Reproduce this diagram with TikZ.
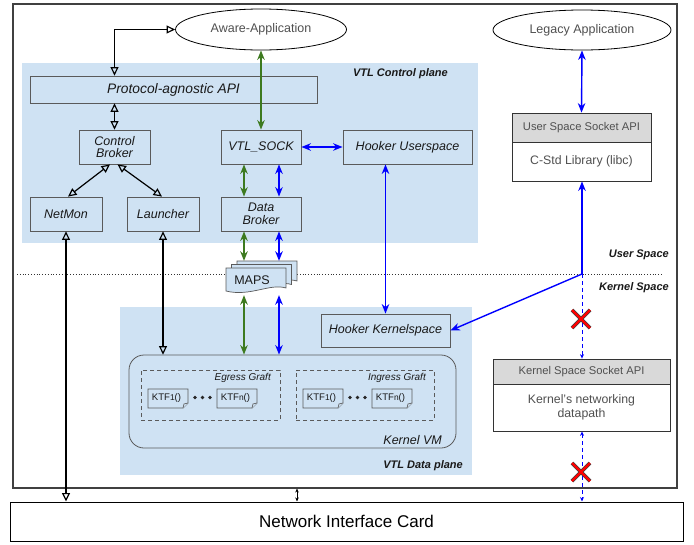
\documentclass[tikz,border=0pt]{standalone}
\usepackage{fontspec}
\setmainfont{Liberation Sans}
\usetikzlibrary{arrows.meta,calc,shapes.geometric}
\definecolor{bgblue}{HTML}{CFE2F3}
\definecolor{bstroke}{HTML}{5A5A5A}
\definecolor{dgreen}{HTML}{3D7A1F}
\definecolor{hdrgray}{HTML}{D9D9D9}
\definecolor{txtgray}{HTML}{505050}
\definecolor{pureblue}{HTML}{0000FF}
\begin{document}
\begin{tikzpicture}[x=1pt,y=-1pt,
  bluebox/.style={draw=bstroke, fill=bgblue, line width=0.8pt, inner sep=0pt, align=center,
    text=black!90, font=\fontsize{12.5}{14}\selectfont\itshape},
  ell/.style={ellipse, draw=black, line width=0.8pt, fill=white, inner sep=0pt,
    text=txtgray, font=\fontsize{12.5}{14}\selectfont},
  hdr/.style={draw=black!80, fill=hdrgray, line width=0.8pt, inner sep=0pt, text=txtgray,
    font=\fontsize{11.2}{13}\selectfont},
  body/.style={draw=black!80, fill=white, line width=0.8pt, inner sep=0pt, align=center, text=txtgray,
    font=\fontsize{12.3}{14.5}\selectfont},
  plane/.style={font=\fontsize{11}{13}\selectfont\bfseries\itshape, inner sep=0pt, text=black!90},
  graft/.style={draw=bstroke, dashed, dash pattern=on 4pt off 3pt, line width=0.7pt, inner sep=0pt},
  notest/.style={draw=bstroke, fill=bgblue, line width=0.7pt},
  ktf/.style={inner sep=0pt, font=\fontsize{9.6}{11}\selectfont, text=black!90},
  oarr/.style={line width=1.2pt, {Triangle[open,length=8.5pt,width=8pt]}-{Triangle[open,length=8.5pt,width=8pt]}},
  garr/.style={draw=dgreen, line width=1.4pt, {Stealth[length=9.5pt,width=7.5pt,inset=3pt]}-{Stealth[length=9.5pt,width=7.5pt,inset=3pt]}},
  barr/.style={draw=pureblue, line width=1.4pt, {Stealth[length=9.5pt,width=7.5pt,inset=3pt]}-{Stealth[length=9.5pt,width=7.5pt,inset=3pt]}},
  barrone/.style={draw=pureblue, line width=1.4pt, -{Stealth[length=9.5pt,width=7.5pt,inset=3pt]}},
  bdash/.style={draw=pureblue, line width=0.8pt, dash pattern=on 4pt off 3pt},
  redx/.style={line width=3.6pt, draw=black!75},
  redxin/.style={line width=2.2pt, draw=red}
]
\useasboundingbox (0,0) rectangle (694,544);

% outer frame
\node[draw=black!75, line width=1.1pt, minimum width=664, minimum height=484, inner sep=0pt] (frame) at (345,246) {};

% planes
\fill[bgblue] (22,63) rectangle (478,243);
\fill[bgblue] (120,307) rectangle (472,475);

% dotted separator
\draw[dotted, line width=0.8pt, black!80] (17,274) -- (662,274);

% plane labels
\node[plane, anchor=east] (cplabel) at (448,74) {VTL Control plane};
\node[plane, anchor=east] (dplabel) at (463,466) {VTL Data plane};
\node[plane, anchor=east] (uslabel) at (669,255) {User Space};
\node[plane, anchor=east] (kslabel) at (669,288) {Kernel Space};

% ellipses
\node[ell, minimum width=171, minimum height=41] (aware) at (261,29.5) {Aware-Application};
\node[ell, minimum width=178, minimum height=40] (legacy) at (582,30) {Legacy Application};

% control plane boxes
\node[bluebox, minimum width=287, minimum height=27, font=\fontsize{13.8}{15}\selectfont\itshape] (api) at (173.5,89.5) {Protocol-agnostic API};
\node[bluebox, minimum width=71, minimum height=34] (cb) at (114.5,147) {Control\\[-1.5pt]Broker};
\node[bluebox, minimum width=80, minimum height=34] (vtlsock) at (261,147) {VTL\_SOCK};
\node[bluebox, minimum width=129, minimum height=34] (hus) at (407.5,147) {Hooker Userspace};
\node[bluebox, minimum width=72, minimum height=34] (netmon) at (66,214) {NetMon};
\node[bluebox, minimum width=72, minimum height=34] (launcher) at (163,214) {Launcher};
\node[bluebox, minimum width=80, minimum height=34] (databroker) at (261,214) {Data\\[-1.5pt]Broker};

% data plane boxes
\node[bluebox, minimum width=129, minimum height=33] (hks) at (385.5,330.5) {Hooker Kernelspace};
\node[draw=bstroke, line width=0.8pt, rounded corners=15pt, minimum width=327, minimum height=93, inner sep=0pt] (kvm) at (292.5,401.5) {};
\node[inner sep=0pt, anchor=east, font=\fontsize{12.5}{14}\selectfont\itshape, text=black!90] (kvmlabel) at (442,440) {Kernel VM};
\node[graft, minimum width=139, minimum height=50] (egress) at (210.5,395) {};
\node[graft, minimum width=138, minimum height=50] (ingress) at (365,395) {};
\node[inner sep=0pt, anchor=east, font=\fontsize{10}{12}\selectfont\itshape, text=black!90] (eglabel) at (271,377.5) {Egress Graft};
\node[inner sep=0pt, anchor=east, font=\fontsize{10}{12}\selectfont\itshape, text=black!90] (inlabel) at (426,377.5) {Ingress Graft};

% KTF notes
\draw[notest] (148,389) -- ++(40,0) -- ++(0,14) -- ++(-5,5) -- ++(-35,0) -- cycle;
\draw[notest] (183,408) -- ++(1,-4) -- ++(4,-1);
\draw[notest] (217,389) -- ++(40,0) -- ++(0,14) -- ++(-5,5) -- ++(-35,0) -- cycle;
\draw[notest] (252,408) -- ++(1,-4) -- ++(4,-1);
\draw[notest] (303,389) -- ++(40,0) -- ++(0,14) -- ++(-5,5) -- ++(-35,0) -- cycle;
\draw[notest] (338,408) -- ++(1,-4) -- ++(4,-1);
\draw[notest] (372,389) -- ++(40,0) -- ++(0,14) -- ++(-5,5) -- ++(-35,0) -- cycle;
\draw[notest] (407,408) -- ++(1,-4) -- ++(4,-1);
\node[ktf] (e1) at (166.5,398.5) {KTF{\fontsize{8.4}{9}\selectfont 1}()};
\node[ktf] (en) at (235.5,398.5) {KTF{\fontsize{8.4}{9}\selectfont n}()};
\node[ktf] (i1) at (321.5,398.5) {KTF{\fontsize{8.4}{9}\selectfont 1}()};
\node[ktf] (in) at (390.5,398.5) {KTF{\fontsize{8.4}{9}\selectfont n}()};
\foreach \dx in {195,202.5,210,350,357.5,365} \fill[black!85] (\dx,397.5) circle (1.9);

% socket API boxes
\node[hdr, minimum width=139, minimum height=29] (usock) at (581.5,127.5) {User Space Socket API};
\node[body, minimum width=139, minimum height=39] (libc) at (581.5,161.5) {C-Std Library (libc)};
\node[hdr, minimum width=177, minimum height=25] (ksock) at (581.5,371.5) {Kernel Space Socket API};
\node[body, minimum width=177, minimum height=47] (kdp) at (581.5,407.5) {Kernel's networking\\datapath};

% NIC
\node[draw=black, line width=1pt, minimum width=673, minimum height=39, inner sep=0pt,
  font=\fontsize{17}{19}\selectfont] (nic) at (346.5,521.5) {Network Interface Card};

% helper x positions
\coordinate (gx) at (244,0);
\coordinate (bx) at (279,0);
\coordinate (kx) at (297,0);
\coordinate (junc) at (582,274);

% MAPS multi-document
\node[inner sep=0pt, minimum width=71, minimum height=34] (maps) at (261.5,278) {};
\begin{scope}[shift={(11,-7)}]
\draw[draw=bstroke, fill=bgblue, line width=0.7pt] (226,268) -- (286,268) -- (286,288) .. controls (270,283) and (250,297) .. (226,291) -- cycle;
\end{scope}
\begin{scope}[shift={(5.5,-3.5)}]
\draw[draw=bstroke, fill=bgblue, line width=0.7pt] (226,268) -- (286,268) -- (286,288) .. controls (270,283) and (250,297) .. (226,291) -- cycle;
\end{scope}
\draw[draw=bstroke, fill=bgblue, line width=0.7pt] (226,268) -- (286,268) -- (286,288) .. controls (270,283) and (250,297) .. (226,291) -- cycle;
\node[inner sep=0pt, font=\fontsize{12.5}{14}\selectfont, text=black!90] (mapstxt) at (252,280) {MAPS};

% black arrows
\draw[oarr] (aware.west) -| (cb.north |- api.north);
\draw[oarr] (api.south -| cb.north) -- (cb.north);
\draw[oarr] ($(cb.south)+(-4.5,0)$) -- ($(netmon.north)+(2,0)$);
\draw[oarr] ($(cb.south)+(3,0)$) -- ($(launcher.north)+(-1,0)$);
\draw[oarr] (netmon.south) -- (netmon.south |- nic.north);
\draw[oarr] (launcher.south) -- (launcher.south |- kvm.north);
\draw[line width=0.6pt, {Stealth[length=4pt,width=3.5pt]}-{Stealth[length=4pt,width=3.5pt]}] (frame.south -| kx) -- (nic.north -| kx);

% green arrows
\draw[garr] (aware.south) -- (vtlsock.north);
\draw[garr] (vtlsock.south -| gx) -- (databroker.north -| gx);
\draw[garr] (databroker.south -| gx) -- (maps.north -| gx);
\draw[garr] (maps.south -| gx) -- (kvm.north -| gx);

% blue arrows
\draw[barr] (vtlsock.east) -- (hus.west);
\draw[barr] (vtlsock.south -| bx) -- (databroker.north -| bx);
\draw[barr] (databroker.south -| bx) -- (maps.north -| bx);
\draw[barr] (maps.south -| bx) -- (kvm.north -| bx);
\draw[barr] (hus.south -| hks.north) -- (hks.north);
\draw[barr] (legacy.south) -- (usock.north);
\draw[barrone] (junc) -- (libc.south -| junc);
\draw[barrone] (junc) -- (hks.east);
\draw[bdash, -{Stealth[length=4.5pt,width=4pt]}] (junc) -- (ksock.north -| junc);
\draw[bdash, {Stealth[length=4.5pt,width=4pt]}-{Stealth[length=4.5pt,width=4pt]}] (kdp.south -| junc) -- (nic.north -| junc);

% red crosses
\draw[redx] (572,310) -- (590,328) (572,328) -- (590,310);
\draw[redxin] (572,310) -- (590,328) (572,328) -- (590,310);
\draw[redx] (572,463) -- (590,481) (572,481) -- (590,463);
\draw[redxin] (572,463) -- (590,481) (572,481) -- (590,463);
\end{tikzpicture}
\end{document}
